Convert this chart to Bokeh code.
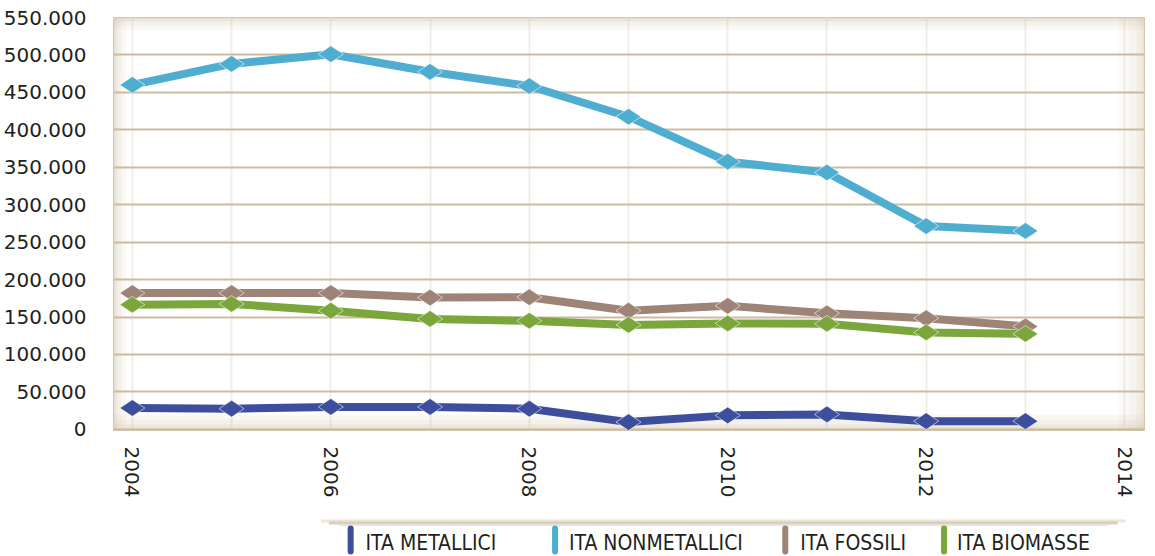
import math
from bokeh.plotting import figure
from bokeh.models import FixedTicker, Range1d, BoxAnnotation
from bokeh.layouts import column
from bokeh.core.properties import value
from bokeh.embed import file_html
from bokeh.resources import INLINE

# ---- data ----
years = [2004, 2005, 2006, 2007, 2008, 2009, 2010, 2011, 2012, 2013]
metallici = [28500, 27600, 30000, 30000, 27600, 9700, 18700, 20000, 11000, 11000]
nonmetallici = [460000, 488000, 501000, 477500, 458500, 417500, 357500, 343000, 271500, 265000]
fossili = [182000, 182000, 182000, 176000, 176500, 158500, 165000, 155000, 148500, 137500]
biomasse = [166500, 167500, 158500, 147500, 145000, 139500, 141500, 141000, 129500, 127500]

series_names = ["ITA METALLICI", "ITA NONMETALLICI", "ITA FOSSILI", "ITA BIOMASSE"]
series_colors = ["#3d4f9c", "#4faed0", "#9d8477", "#7ba63b"]
series_values = [metallici, nonmetallici, fossili, biomasse]

x_ticks = [2004, 2006, 2008, 2010, 2012, 2014]
x_grid_years = [2004, 2005, 2006, 2007, 2008, 2009, 2010, 2011, 2012, 2013, 2014]
y_ticks = [0, 50000, 100000, 150000, 200000, 250000, 300000, 350000, 400000, 450000, 500000, 550000]
y_tick_labels = ["0", "50.000", "100.000", "150.000", "200.000", "250.000", "300.000",
                 "350.000", "400.000", "450.000", "500.000", "550.000"]

TEXT = "#231f20"
FONT = "DejaVu Sans"

X0, X1 = 2003.81, 2014.2
Y0, Y1 = -1500, 550000

p = figure(width=1147, height=508, x_range=Range1d(X0, X1), y_range=Range1d(Y0, Y1),
           output_backend="svg", toolbar_location=None,
           min_border_left=105, min_border_right=3, min_border_top=17, min_border_bottom=78)
p.background_fill_color = "white"
p.border_fill_color = "white"
p.outline_line_color = "#d8ccb6"
p.outline_line_width = 1

# frame inner shading (beige bevel)
px_x = (X1 - X0) / 1039.0
px_y = (Y1 - Y0) / 413.0
tan = "#cdbd9f"
for w, a in [(12, 0.10), (8, 0.12), (4, 0.15), (2, 0.18)]:
    p.add_layout(BoxAnnotation(right=X0 + w * px_x, fill_color=tan, fill_alpha=a,
                               line_alpha=0, level="underlay"))
    p.add_layout(BoxAnnotation(bottom=Y1 - w * px_y, fill_color=tan, fill_alpha=a,
                               line_alpha=0, level="underlay"))
for w, a in [(16, 0.10), (11, 0.12), (6, 0.15), (3, 0.18)]:
    p.add_layout(BoxAnnotation(top=Y0 + w * px_y, fill_color=tan, fill_alpha=a,
                               line_alpha=0, level="underlay"))
for w, a in [(26, 0.07), (16, 0.09), (8, 0.12), (3, 0.15)]:
    p.add_layout(BoxAnnotation(left=X1 - w * px_x, fill_color=tan, fill_alpha=a,
                               line_alpha=0, level="underlay"))

# axes
p.xaxis.ticker = FixedTicker(ticks=x_ticks)
p.xaxis.major_label_orientation = "vertical"
p.xaxis.major_label_standoff = 10
p.yaxis.ticker = FixedTicker(ticks=y_ticks)
p.yaxis.major_label_overrides = {t: l for t, l in zip(y_ticks, y_tick_labels)}
p.yaxis.major_label_standoff = 21
for ax in (p.xaxis[0], p.yaxis[0]):
    ax.axis_line_color = None
    ax.major_tick_line_color = None
    ax.minor_tick_line_color = None
    ax.major_label_text_font = FONT
    ax.major_label_text_font_size = "20px"
    ax.major_label_text_color = TEXT

p.xgrid.ticker = FixedTicker(ticks=x_grid_years)
p.xgrid.grid_line_color = "#f2eee6"
p.xgrid.grid_line_width = 2
p.ygrid.grid_line_color = "#ccbb9f"
p.ygrid.grid_line_width = 2

for vals, col in zip(series_values, series_colors):
    p.line(years, vals, line_width=8, line_color=col)
    p.scatter(years, vals, marker="diamond", size=25, angle=math.pi / 2,
              fill_color=col, line_color="white", line_alpha=0.55, line_width=1)

# ---- legend strip (frame aligned with the main frame: x 113..1152 px) ----
leg = figure(width=1147, height=48, x_range=Range1d(113, 1152), y_range=Range1d(556, 508),
             output_backend="svg", toolbar_location=None, x_axis_type=None, y_axis_type=None,
             min_border=0)
leg.outline_line_color = None
leg.background_fill_color = "white"
leg.border_fill_color = "white"

# shadow bar
leg.segment(x0=[322], y0=[520.5], x1=[1133], y1=[520.5], line_width=3, line_color="#ebe5da")
leg.segment(x0=[330], y0=[522.5], x1=[1125], y1=[522.5], line_width=3, line_color="#d8cfbd")
leg.segment(x0=[340], y0=[524.5], x1=[1115], y1=[524.5], line_width=2, line_color="#e9e3d8")

marker_x = [352, 558, 790, 950]
text_x = [367, 572, 805, 963]
leg.segment(x0=marker_x, y0=[528] * 4, x1=marker_x, y1=[551] * 4,
            line_width=6, line_color=series_colors, line_cap="round")
leg.text(x=text_x, y=[542] * 4, text=series_names,
         text_font=value("'DejaVu Sans Condensed', Roboto, sans-serif"),
         text_font_size="21px", text_baseline="middle", text_color=TEXT)

layout = column(p, leg, spacing=0)
open("out.html", "w").write(file_html(layout, INLINE))
